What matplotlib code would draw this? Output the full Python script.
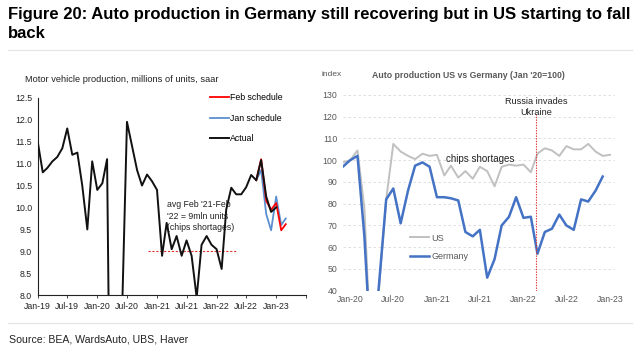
import matplotlib
matplotlib.use("Agg")
import matplotlib.pyplot as plt
import pandas as pd

plt.rcParams['font.family'] = ['Liberation Sans', 'DejaVu Sans']

# left panel: US motor vehicle production, saar, millions (monthly from Jan-19)
actual_dates = pd.date_range("2019-01-01", "2023-01-01", freq="MS")
actual = [11.5, 10.8, 10.9, 11.05, 11.15, 11.35, 11.8, 11.2, 11.25, 10.5, 9.5, 11.05,
          10.4, 10.55, 11.1, 0.3, 3.0, 7.6, 11.95, 11.4, 10.85, 10.5, 10.75, 10.6,
          10.4, 8.9, 9.65, 9.05, 9.35, 8.9, 9.25, 8.9, 7.95, 9.15, 9.35, 9.15,
          9.05, 8.6, 9.95, 10.45, 10.3, 10.3, 10.46, 10.74, 10.62, 11.08, 10.25, 9.9,
          10.0]
sched_dates = pd.date_range("2022-09-01", "2023-03-01", freq="MS")
feb_schedule = [10.62, 11.1, 10.15, 9.95, 10.1, 9.48, 9.62]
jan_schedule = [10.62, 10.85, 9.85, 9.48, 10.25, 9.6, 9.75]
avg_level = 9.0
avg_span = ("2020-11-05", "2022-05-01")
left_ticks = pd.date_range("2019-01-01", "2023-07-01", freq="6MS")
left_labels = ["Jan-19", "Jul-19", "Jan-20", "Jul-20", "Jan-21", "Jul-21",
               "Jan-22", "Jul-22", "Jan-23", ""]

# right panel: index Jan '20 = 100
us_dates = pd.date_range("2019-12-01", "2023-01-01", freq="MS")
us_index = [99, 100, 104.5, 78, 3, 40, 82, 107.5, 104, 102, 100.5, 103, 102,
            102.5, 93, 97.5, 92, 95, 91.5, 97, 95, 88, 97, 98, 97.5,
            98, 94.5, 103, 105.5, 104.5, 102, 106.5, 105, 105, 107.5, 104, 102,
            102.5]
de_dates = pd.date_range("2019-12-01", "2022-12-01", freq="MS")
de_index = [97, 100, 102, 65, 5, 42, 82, 87, 71, 86, 97.5, 99, 97,
            83, 83, 82.5, 81.5, 67, 65, 68, 46, 54.5, 70, 74, 83,
            73.5, 74, 57, 67, 68.5, 75, 70, 68, 82, 81, 86, 92.5]
invasion = "2022-02-24"
right_ticks = pd.date_range("2020-01-01", "2023-01-01", freq="6MS")
right_labels = ["Jan-20", "Jul-20", "Jan-21", "Jul-21", "Jan-22", "Jul-22", "Jan-23"]

W, H = 640, 361
fig = plt.figure(figsize=(W / 100, H / 100), dpi=100)


def fx(px):
    return px / W


def fy(py):
    return 1 - py / H


# header / footer
fig.text(fx(8), fy(7), "Figure 20: Auto production in Germany still recovering but in US starting to fall\nback",
         fontsize=12, fontweight="bold", va="top", ha="left", linespacing=1.3)
fig.add_artist(plt.Line2D([fx(8), fx(632)], [fy(50), fy(50)], color="#e6e6e6", lw=1))
fig.add_artist(plt.Line2D([fx(8), fx(632)], [fy(323), fy(323)], color="#e6e6e6", lw=1))
fig.text(fx(9), fy(339), "Source: BEA, WardsAuto, UBS, Haver", fontsize=7.6, va="center", ha="left",
         color="#222222")

# ---- left panel
ax1 = fig.add_axes([fx(37.7), fy(295.3), fx(305.7 - 37.7), (295.3 - 97.7) / H])
ax1.plot(sched_dates, feb_schedule, color="#ff0000", lw=1.3, label="Feb schedule", zorder=3)
ax1.plot(sched_dates, jan_schedule, color="#5b8fd0", lw=1.3, label="Jan schedule", zorder=2)
ax1.plot(actual_dates, actual, color="#111111", lw=1.4, label="Actual", zorder=4)
ax1.hlines(avg_level, pd.Timestamp(avg_span[0]), pd.Timestamp(avg_span[1]),
           colors="#e03030", linestyles=(0, (2, 1.5)), lw=0.8)
ax1.set_xlim(pd.Timestamp("2019-01-01"), pd.Timestamp("2023-07-01"))
ax1.set_ylim(8.0, 12.5)
ax1.set_yticks([8.0 + 0.5 * i for i in range(10)])
ax1.set_yticklabels([f"{8.0 + 0.5 * i:.1f}" for i in range(10)])
ax1.set_xticks(left_ticks)
ax1.set_xticklabels(left_labels)
for s in ["top", "right"]:
    ax1.spines[s].set_visible(False)
for s in ["left", "bottom"]:
    ax1.spines[s].set_color("#222222")
    ax1.spines[s].set_linewidth(0.8)
ax1.tick_params(axis="y", length=0, labelsize=6.3, pad=4, colors="#222222")
ax1.tick_params(axis="x", length=2.5, width=0.6, labelsize=6.3, pad=2, colors="#222222")
ax1.set_facecolor("none")
ax1.text(pd.Timestamp("2021-03-01"), 10.16, "avg Feb '21-Feb\n'22 = 9mln units\n(chips shortages)",
         fontsize=6.3, va="top", ha="left", linespacing=1.35, color="#222222")
ax1.legend(loc="upper left", bbox_to_anchor=(0.63, 1.04), frameon=False, fontsize=6.3,
           handlelength=2.2, handletextpad=0.1, labelspacing=1.3, borderaxespad=0)
fig.text(fx(25), fy(80), "Motor vehicle production, millions of units, saar", fontsize=6.7,
         va="center", ha="left", color="#222222")

# ---- right panel
ax2 = fig.add_axes([fx(342.8), fy(290.7), fx(615 - 342.8), (290.7 - 95) / H])
ax2.plot(us_dates, us_index, color="#c0c0c0", lw=1.4, label="US")
ax2.plot(de_dates, de_index, color="#4472c4", lw=1.8, label="Germany")
ax2.vlines(pd.Timestamp(invasion), 40, 121.5, colors="#e03030", linestyles=(0, (1.2, 1.2)), lw=0.8)
ax2.set_xlim(pd.Timestamp("2019-12-01"), pd.Timestamp("2023-01-22"))
ax2.set_ylim(40, 130)
ax2.set_yticks(range(40, 131, 10))
ax2.set_xticks(right_ticks)
ax2.set_xticklabels(right_labels)
ax2.grid(axis="y", color="#d9d9d9", linestyle=(0, (3, 3)), lw=0.6)
ax2.set_axisbelow(True)
for s in ax2.spines.values():
    s.set_visible(False)
ax2.tick_params(length=0, labelsize=6.3, colors="#595959")
ax2.tick_params(axis="y", pad=4)
ax2.tick_params(axis="x", pad=3)
ax2.text(pd.Timestamp("2021-02-10"), 100.5, "chips shortages", fontsize=7, va="center",
         ha="left", color="#222222")
ax2.text(pd.Timestamp(invasion), 124.5, "Russia invades\nUkraine", fontsize=6.6, va="center",
         ha="center", color="#222222", linespacing=1.25)
ax2.legend(loc="upper left", bbox_to_anchor=(0.235, 0.31), frameon=False, fontsize=6.5,
           handlelength=2.1, handletextpad=0.2, labelspacing=1.0, borderaxespad=0,
           labelcolor="#595959")
fig.text(fx(468), fy(75), "Auto production US vs Germany (Jan '20=100)", fontsize=6.3,
         fontweight="bold", va="center", ha="center", color="#595959")
fig.text(fx(322), fy(75), "index", fontsize=6, va="center", ha="left", color="#595959")

fig.savefig("out.png", dpi=100)
